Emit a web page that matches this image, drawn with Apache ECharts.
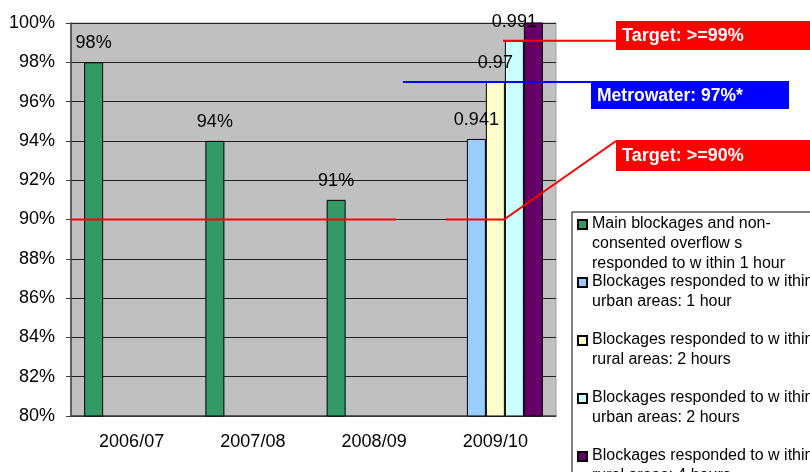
<!DOCTYPE html>
<html>
<head>
<meta charset="utf-8">
<script src="https://cdn.jsdelivr.net/npm/echarts@6/dist/echarts.min.js"></script>
<style>
    html, body { margin: 0; padding: 0; background: #fff; }
    #chart { width: 810px; height: 472px; }
</style>
</head>
<body>
<div id="chart"></div>
<script>
    var years = ['2006/07', '2007/08', '2008/09', '2009/10'];
    var seriesNames = [
        'Main blockages and non-\nconsented overflow s\nresponded to w ithin 1 hour',
        'Blockages responded to w ithin\nurban areas: 1 hour\n ',
        'Blockages responded to w ithin\nrural areas: 2 hours\n ',
        'Blockages responded to w ithin\nurban areas: 2 hours\n ',
        'Blockages responded to w ithin\nrural areas: 4 hours\n '
    ];
    var mainBlockages = [0.98, 0.94, 0.91, null];
    var urban1h = [null, null, null, 0.941];
    var rural2h = [null, null, null, 0.97];
    var urban2h = [null, null, null, 0.991];
    var rural4h = [null, null, null, 1.002];
    var yMin = 0.8, yMax = 1.0, yStep = 0.02;
    var targetLow = 0.9;
    var targetHigh = 0.991;
    var metrowater = 0.97;

    var FONT = '"Liberation Sans", Arial, sans-serif';
    var colors = ['#339966', '#99CCFF', '#FFFFCC', '#CCFFFF', '#660066'];
    var values = [mainBlockages, urban1h, rural2h, urban2h, rural4h];

    var chart = echarts.init(document.getElementById('chart'));

    function pctLabel(p) { return Math.round(p.value * 100) + '%'; }
    function decLabel(p) { return String(+p.value.toFixed(3)); }

    var series = values.map(function (d, i) {
        return {
            name: seriesNames[i],
            type: 'bar',
            data: d,
            barWidth: 19,
            barGap: '0%',
            itemStyle: { color: colors[i], borderColor: '#000', borderWidth: 1 },
            label: {
                show: i < 4,
                position: 'top',
                distance: 10,
                color: '#000',
                fontSize: 18,
                fontFamily: FONT,
                formatter: i === 0 ? pctLabel : decLabel
            }
        };
    });

    chart.setOption({
        animation: false,
        textStyle: { fontFamily: FONT },
        grid: {
            left: 71, right: 254, top: 23, bottom: 56,
            show: true,
            backgroundColor: '#C0C0C0',
            borderColor: '#A0A0A0',
            borderWidth: 1
        },
        legend: {
            orient: 'vertical',
            left: 572,
            top: 212,
            height: 340,
            padding: [1, 6, 4, 5],
            itemWidth: 9,
            itemHeight: 60,
            itemGap: -4,
            icon: 'path://M9,60M0,0M0,6L9,6L9,15L0,15Z',
            selectedMode: false,
            backgroundColor: '#fff',
            borderColor: '#000',
            borderWidth: 1,
            textStyle: { fontSize: 16, lineHeight: 20, color: '#000', fontFamily: FONT },
            data: seriesNames
        },
        xAxis: {
            type: 'category',
            data: years,
            axisLine: { lineStyle: { color: '#404040', width: 1.5 } },
            axisTick: { length: 6, lineStyle: { color: '#404040' } },
            axisLabel: { color: '#000', fontSize: 18, margin: 17, fontFamily: FONT }
        },
        yAxis: {
            type: 'value',
            min: yMin,
            max: yMax,
            interval: yStep,
            axisLine: { show: true, lineStyle: { color: '#404040', width: 1.5 } },
            axisTick: { show: true, length: 5, lineStyle: { color: '#404040' } },
            splitLine: { lineStyle: { color: '#222', width: 1 } },
            axisLabel: {
                color: '#000', fontSize: 18, margin: 16, fontFamily: FONT,
                formatter: function (v) { return Math.round(v * 100) + '%'; }
            }
        },
        series: series
    });

    // callout lines and boxes, y positions taken from the value axis
    var y90 = chart.convertToPixel({ yAxisIndex: 0 }, targetLow);
    var y99 = chart.convertToPixel({ yAxisIndex: 0 }, targetHigh);
    var y97 = chart.convertToPixel({ yAxisIndex: 0 }, metrowater);
    var x0 = chart.convertToPixel({ gridIndex: 0 }, [0, yMin])[0] - 60.6;

    function boxText(x, y, w, h, fill, text, size) {
        return [
            { type: 'rect', z: 110, shape: { x: x, y: y, width: w, height: h }, style: { fill: fill } },
            {
                type: 'text', z: 111, x: x + 6, y: y + h / 2 + 1,
                style: {
                    text: text, fill: '#fff', fontSize: size, fontWeight: 'bold',
                    fontFamily: FONT, verticalAlign: 'middle'
                }
            }
        ];
    }

    var lineStyle = function (c) { return { stroke: c, lineWidth: 2, fill: null }; };

    chart.setOption({
        graphic: [
            { type: 'polyline', z: 100, shape: { points: [[x0, y90], [396, y90]] }, style: lineStyle('#FF0000') },
            { type: 'polyline', z: 100, shape: { points: [[446, y90], [504, y90], [616, 141]] }, style: lineStyle('#FF0000') },
            { type: 'polyline', z: 100, shape: { points: [[503, y99], [616, y99]] }, style: lineStyle('#FF0000') },
            { type: 'polyline', z: 100, shape: { points: [[403, y97], [638, y97]] }, style: lineStyle('#0000FF') }
        ].concat(
            boxText(616, 21, 194, 29, '#FF0000', 'Target: >=99%', 18),
            boxText(591, 81, 198, 28, '#0000FF', 'Metrowater: 97%*', 17.5),
            boxText(616, 140, 194, 31, '#FF0000', 'Target: >=90%', 18)
        )
    });
</script>
</body>
</html>
